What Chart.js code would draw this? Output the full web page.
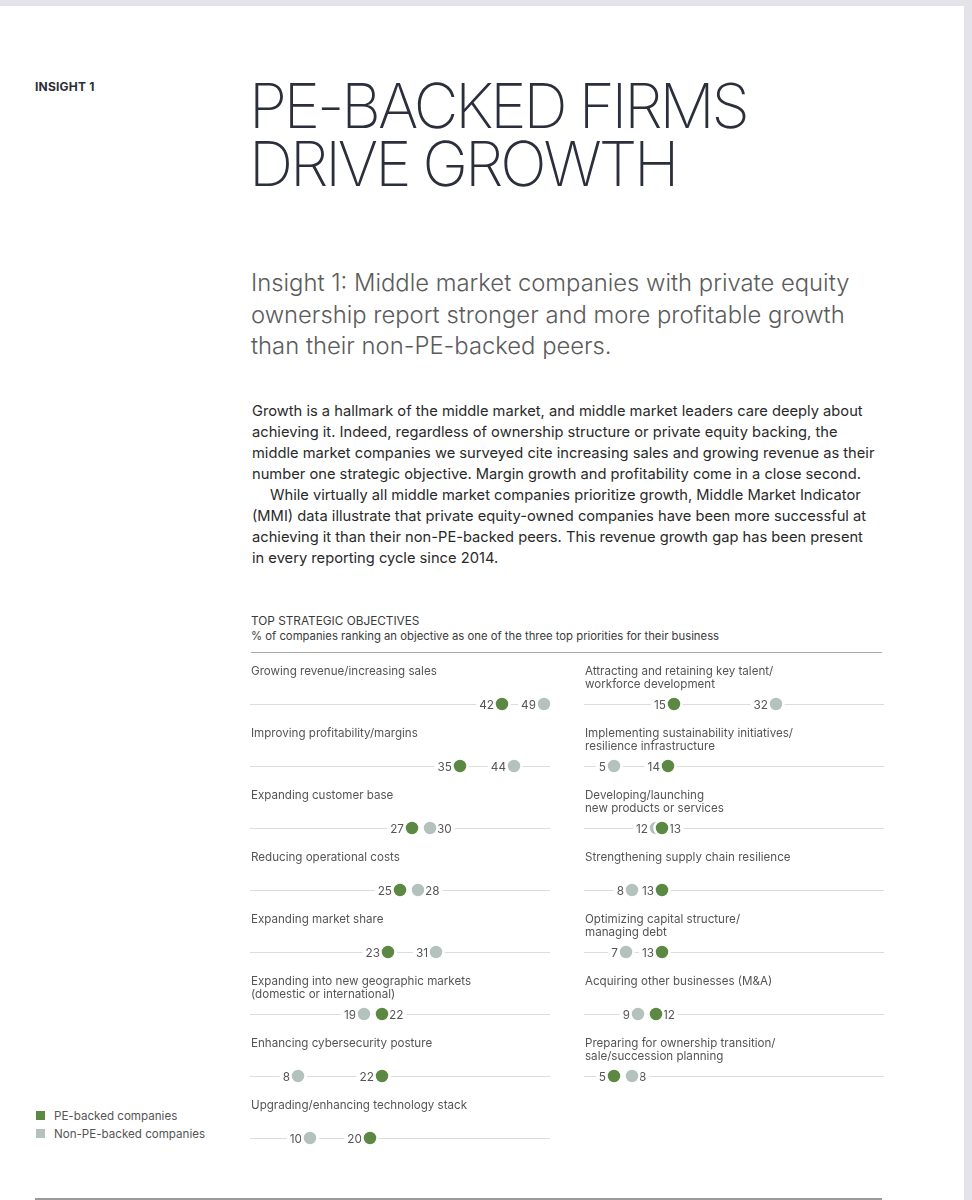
<!DOCTYPE html>
<html>
<head>
<meta charset="utf-8">
<script src="https://cdn.jsdelivr.net/npm/chart.js@4.4.1/dist/chart.umd.min.js"></script>
<style>
  html, body { margin: 0; padding: 0; }
  body { width: 972px; height: 1200px; background: #e4e3ea; overflow: hidden; font-family: Inter, "Noto Sans", sans-serif; }
  #page { position: absolute; left: 0; top: 6px; width: 964px; height: 1200px; background: #fff; }
  .abs { position: absolute; white-space: nowrap; }
  #tag { left: 35px; top: 73px; font-size: 12px; font-weight: 700; color: #2c2f38; letter-spacing: 0.2px; }
  #title { left: 249px; top: 71px; font-size: 61.5px; line-height: 58px; font-weight: 200; color: #2b2f3c; letter-spacing: -3.1px; }
  #sub { left: 251px; top: 261px; font-size: 23.8px; line-height: 31.5px; font-weight: 300; color: #5b5b5b; }
  #body { left: 252px; top: 395px; font-size: 14.7px; line-height: 21px; color: #2a2a2a; }
  #body .ind { padding-left: 18px; }
  #ctitle { left: 251px; top: 608px; font-size: 11.3px; line-height: 15px; color: #3a3a3a; }
  #ctitle .t1 { font-size: 11.8px; }
  .rule { position: absolute; height: 1px; background: #a9a9a9; }
  .box { position: absolute; width: 340px; height: 500px; }
  #legend { left: 36px; top: 1101px; font-size: 11.6px; line-height: 18px; color: #555; }
  #legend span.sw { display: inline-block; width: 9px; height: 9px; margin-right: 9px; vertical-align: 0px; }
</style>
</head>
<body>
<div id="page">
  <div id="tag" class="abs">INSIGHT 1</div>
  <div id="title" class="abs">PE-BACKED FIRMS<br>DRIVE GROWTH</div>
  <div id="sub" class="abs">Insight 1: Middle market companies with private equity<br>ownership report stronger and more profitable growth<br>than their non-PE-backed peers.</div>
  <div id="body" class="abs">Growth is a hallmark of the middle market, and middle market leaders care deeply about<br>achieving it. Indeed, regardless of ownership structure or private equity backing, the<br>middle market companies we surveyed cite increasing sales and growing revenue as their<br>number one strategic objective. Margin growth and profitability come in a close second.<br><span class="ind">While virtually all middle market companies prioritize growth, Middle Market Indicator</span><br>(MMI) data illustrate that private equity-owned companies have been more successful at<br>achieving it than their non-PE-backed peers. This revenue growth gap has been present<br>in every reporting cycle since 2014.</div>
  <div id="ctitle" class="abs"><span class="t1">TOP STRATEGIC OBJECTIVES</span><br>% of companies ranking an objective as one of the three top priorities for their business</div>
  <div class="rule" style="left:251px; top:646px; width:631px;"></div>
  <div class="box" style="left:230px; top:643px;"><canvas id="left-chart"></canvas></div>
  <div class="box" style="left:564px; top:643px;"><canvas id="right-chart"></canvas></div>
  <div id="legend" class="abs">
    <div><span class="sw" style="background:#5b8842"></span>PE-backed companies</div>
    <div><span class="sw" style="background:#b3c2bd"></span>Non-PE-backed companies</div>
  </div>
  <div class="rule" style="left:35px; top:1192px; width:847px; height:2px; background:#9a9a9a;"></div>
</div>

<script>
'use strict';

// *************** DATA
let seriesNames = ['PE-backed companies', 'Non-PE-backed companies'];

let leftCategories = [
  'Growing revenue/increasing sales',
  'Improving profitability/margins',
  'Expanding customer base',
  'Reducing operational costs',
  'Expanding market share',
  ['Expanding into new geographic markets', '(domestic or international)'],
  'Enhancing cybersecurity posture',
  'Upgrading/enhancing technology stack'
];
let leftPE = [42, 35, 27, 25, 23, 22, 22, 20];
let leftNonPE = [49, 44, 30, 28, 31, 19, 8, 10];

let rightCategories = [
  ['Attracting and retaining key talent/', 'workforce development'],
  ['Implementing sustainability initiatives/', 'resilience infrastructure'],
  ['Developing/launching', 'new products or services'],
  'Strengthening supply chain resilience',
  ['Optimizing capital structure/', 'managing debt'],
  'Acquiring other businesses (M&A)',
  ['Preparing for ownership transition/', 'sale/succession planning']
];
let rightPE = [15, 14, 13, 13, 13, 12, 5];
let rightNonPE = [32, 5, 12, 8, 7, 9, 8];

let axisMin = 0;
let axisMax = 50;

// *************** STYLE
let peColor = '#5b8842';
let nonPeColor = '#b3c2bd';
let lineColor = '#dcdcdc';
let textColor = '#555555';
let fontFamily = 'Inter, "Noto Sans", sans-serif';

// ***************** HELPERS
function toPoints(values) {
  let pts = [];
  for (let i = 0; i < values.length; i++) {
    pts.push({ x: values[i], y: i });
  }
  return pts;
}

// rows: baseline, title and value labels, drawn under the dots
let rowPlugin = {
  id: 'rowDecor',
  beforeDatasetsDraw(chart, args, opts) {
    let ctx = chart.ctx;
    let xs = chart.scales.x;
    let ys = chart.scales.y;
    let cats = opts.categories;
    let pe = chart.data.datasets[0].data;
    let non = chart.data.datasets[1].data;
    ctx.save();
    for (let i = 0; i < cats.length; i++) {
      let y = Math.round(ys.getPixelForValue(i)) + 0.5;
      ctx.strokeStyle = lineColor;
      ctx.lineWidth = 1;
      ctx.beginPath();
      ctx.moveTo(xs.getPixelForValue(axisMin), y);
      ctx.lineTo(xs.getPixelForValue(axisMax), y);
      ctx.stroke();

      // title
      let lines = Array.isArray(cats[i]) ? cats[i] : [cats[i]];
      ctx.fillStyle = textColor;
      ctx.font = '11.6px ' + fontFamily;
      ctx.textAlign = 'left';
      ctx.textBaseline = 'middle';
      for (let k = 0; k < lines.length; k++) {
        ctx.fillText(lines[k], xs.left + 1, y - 33 + k * 13);
      }

      // value labels
      let a = pe[i].x;
      let b = non[i].x;
      let close = Math.abs(a - b) <= 3;
      [a, b].forEach(function (v) {
        let cx = xs.getPixelForValue(v);
        let txt = String(v);
        ctx.font = '11.8px ' + fontFamily;
        let w = ctx.measureText(txt).width;
        let right = close && v === Math.max(a, b);
        let tx = right ? cx + 7 : cx - 8 - w;
        ctx.fillStyle = '#ffffff';
        ctx.fillRect(tx - 3, y - 7, w + 6, 14);
        ctx.fillStyle = textColor;
        ctx.textAlign = 'left';
        ctx.fillText(txt, tx, y + 0.5);
      });
    }
    ctx.restore();
  }
};

function buildChart(canvasId, categories, peValues, nonPeValues) {
  let chartObj = {
    type: 'scatter',
    data: {
      datasets: [{
        label: seriesNames[0],
        data: toPoints(peValues),
        backgroundColor: peColor,
        borderColor: '#ffffff',
        borderWidth: 2.5,
        pointRadius: 7.5,
        clip: false
      },
      {
        label: seriesNames[1],
        data: toPoints(nonPeValues),
        backgroundColor: nonPeColor,
        borderColor: '#ffffff',
        borderWidth: 2.5,
        pointRadius: 7.5,
        clip: false
      }]
    },
    options: {
      responsive: true,
      maintainAspectRatio: false,
      animation: false,
      layout: { padding: { left: 20, right: 20, top: 55, bottom: 11 } },
      scales: {
        x: { type: 'linear', min: axisMin, max: axisMax, display: false },
        y: { type: 'linear', min: 0, max: 7, reverse: true, display: false }
      },
      plugins: {
        legend: { display: false },
        tooltip: { enabled: false },
        rowDecor: { categories: categories }
      }
    },
    plugins: [rowPlugin]
  };
  new Chart(document.getElementById(canvasId), chartObj); // eslint-disable-line
}

// **************** EXECUTABLE CODE
buildChart('left-chart', leftCategories, leftPE, leftNonPE);
buildChart('right-chart', rightCategories, rightPE, rightNonPE);
</script>
</body>
</html>
